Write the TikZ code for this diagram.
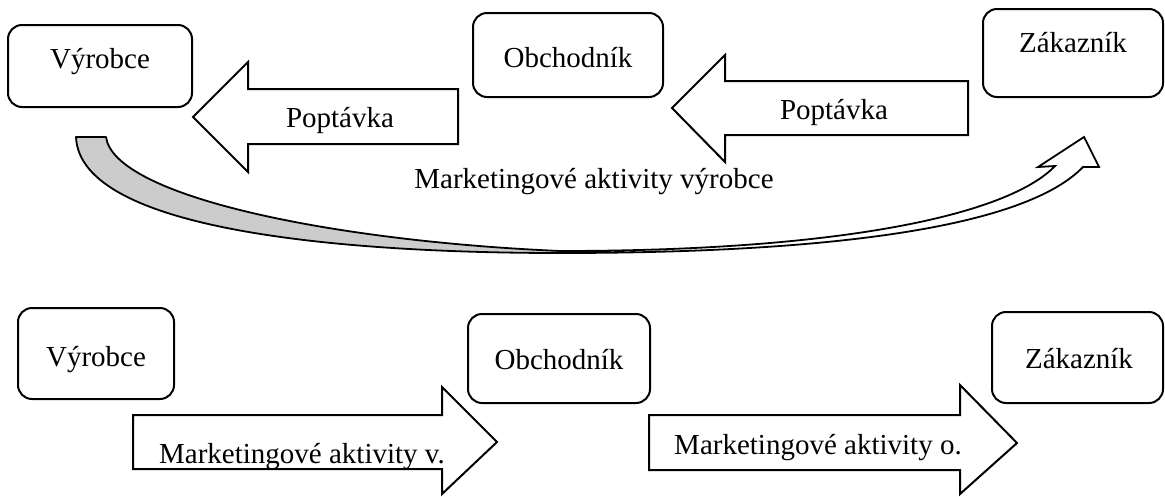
\documentclass[tikz,border=0pt]{standalone}
\usepackage{fontspec}
\setmainfont{Liberation Serif}
\begin{document}
\begin{tikzpicture}[x=1pt,y=-1pt,
  every node/.style={font=\fontsize{29}{34}\selectfont, inner sep=0pt},
  box/.style={draw, line width=2pt, rounded corners=14pt},
  blockarrow/.style={draw, line width=2pt, fill=white, line join=miter},
  band/.style={draw, line width=1.8pt, line join=round}]
\useasboundingbox (0,0) rectangle (1165,496);

% ---- upper scheme: pull strategy ----
\node[box, minimum width=184pt, minimum height=82pt] (vyr1) at (100,66) {};
\node[box, minimum width=190pt, minimum height=84pt] (obc1) at (568,55) {};
\node[box, minimum width=180pt, minimum height=88pt] (zak1) at (1073,53) {};
\node[anchor=base] (tvyr1) at (100,68) {Výrobce};
\node[anchor=base] (tobc1) at (568,67) {Obchodník};
\node[anchor=base] (tzak1) at (1073,52) {Zákazník};

% demand arrows pointing left
\draw[blockarrow] (458,89) -- (248,89) -- (248,62) -- (193,117) -- (248,172)
  -- (248,144) -- (458,144) -- cycle;
\draw[blockarrow] (968,81) -- (725,81) -- (725,55) -- (672,108) -- (725,162)
  -- (725,135) -- (968,135) -- cycle;
\node[anchor=base] (pop1) at (340,127) {Poptávka};
\node[anchor=base] (pop2) at (834,119) {Poptávka};

% curved band from the producer down and up to the customer
\coordinate (bo) at (560,253);
\coordinate (bi) at (560,251);
\draw[band, fill=black!20]
  (76,137) .. controls (80,232) and (350,253) .. (bo)
  -- (bi) .. controls (330,241) and (114,196) .. (106,137)
  -- cycle;
\draw[band, fill=white, line join=miter]
  (bo) .. controls (860,253) and (1030,222) .. (1083,167)
  -- (1099,167) -- (1084,137) -- (1038,167) -- (1055,166)
  .. controls (1010,213) and (850,251) .. (bi)
  -- cycle;
\node[anchor=base] (mkt) at (594,188) {Marketingové aktivity výrobce};

% ---- lower scheme: push strategy ----
\node[box, minimum width=156pt, minimum height=91pt] (vyr2) at (96,353.5) {};
\node[box, minimum width=182pt, minimum height=89pt] (obc2) at (559,358.5) {};
\node[box, minimum width=171pt, minimum height=91pt] (zak2) at (1077.5,357.5) {};
\node[anchor=base] (tvyr2) at (96,366) {Výrobce};
\node[anchor=base] (tobc2) at (559,369) {Obchodník};
\node[anchor=base] (tzak2) at (1079,368) {Zákazník};

% marketing arrows pointing right
\draw[blockarrow] (133,415) -- (442,415) -- (442,387) -- (497,442) -- (442,494)
  -- (442,469) -- (133,469) -- cycle;
\draw[blockarrow] (649,415) -- (960,415) -- (960,385) -- (1017,443) -- (960,494)
  -- (960,470) -- (649,470) -- cycle;
\node[anchor=base] (mv) at (302,463) {Marketingové aktivity v.};
\node[anchor=base] (mo) at (818,454) {Marketingové aktivity o.};
\end{tikzpicture}
\end{document}
